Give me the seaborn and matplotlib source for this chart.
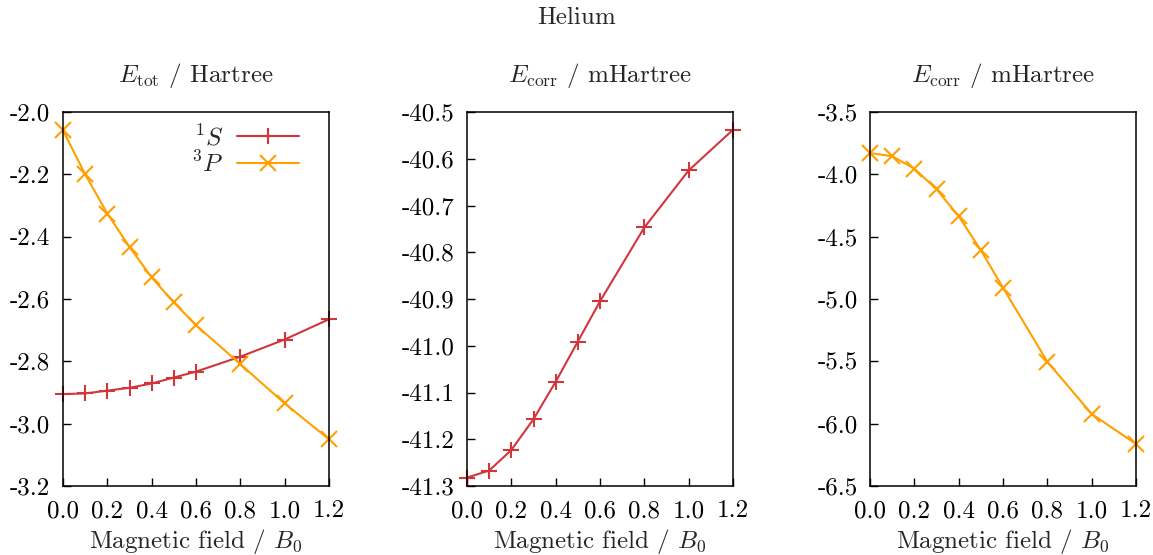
import matplotlib
matplotlib.use("Agg")
import matplotlib.pyplot as plt
import numpy as np
import pandas as pd
import seaborn as sns

# Magnetic field strengths (units of B0)
field = [0.0, 0.1, 0.2, 0.3, 0.4, 0.5, 0.6, 0.8, 1.0, 1.2]

# Total energies in Hartree
etot_1S = [-2.905, -2.903, -2.894, -2.885, -2.871, -2.852, -2.833, -2.785, -2.730, -2.665]
etot_3P = [-2.059, -2.200, -2.326, -2.433, -2.531, -2.611, -2.684, -2.809, -2.935, -3.050]

# Correlation energies in mHartree
ecorr_1S = [-41.282, -41.267, -41.223, -41.157, -41.077, -40.991, -40.905, -40.747, -40.625, -40.538]
ecorr_3P = [-3.829, -3.855, -3.954, -4.120, -4.336, -4.608, -4.910, -5.503, -5.922, -6.163]

x_ticks = [0.0, 0.2, 0.4, 0.6, 0.8, 1.0, 1.2]
y_ticks_tot = [-3.2, -3.0, -2.8, -2.6, -2.4, -2.2, -2.0]
y_ticks_c1 = [-41.3, -41.2, -41.1, -41.0, -40.9, -40.8, -40.7, -40.6, -40.5]
y_ticks_c3 = [-6.5, -6.0, -5.5, -5.0, -4.5, -4.0, -3.5]

label_1S = r"$^1S$"
label_3P = r"$^3P$"
panel_titles = [r"$E_{\rm tot}$ / Hartree",
                r"$E_{\rm corr}$ / mHartree",
                r"$E_{\rm corr}$ / mHartree"]
x_label = r"Magnetic field / $B_0$"
suptitle = "Helium"

RED = "#d0363c"
ORANGE = "#ffa000"
FS = 18

sns.set_theme(style="white")
plt.rcParams.update({
    "font.family": ["cmr10"],
    "mathtext.fontset": "cm",
    "axes.unicode_minus": False,
    "axes.formatter.use_mathtext": True,
    "font.size": FS,
})

W, H = 1153, 555
fig = plt.figure(figsize=(W / 100, H / 100), dpi=100)

ax_lefts = [63, 467, 870]
ax_w = 266
ax_top, ax_bot = 112, 486

axes = []
for L in ax_lefts:
    ax = fig.add_axes([L / W, 1 - ax_bot / H, ax_w / W, (ax_bot - ax_top) / H])
    axes.append(ax)

line_kw = dict(linewidth=1.5, markersize=11, markeredgewidth=1.5, clip_on=False)

df1 = pd.DataFrame({"B": field, "S": etot_1S, "P": etot_3P})
df2 = pd.DataFrame({"B": field, "S": ecorr_1S})
df3 = pd.DataFrame({"B": field, "P": ecorr_3P})

sns.lineplot(data=df1, x="B", y="S", ax=axes[0], color=RED, marker="+",
             markeredgecolor=RED, label=label_1S, **line_kw)
sns.lineplot(data=df1, x="B", y="P", ax=axes[0], color=ORANGE, marker="x",
             markeredgecolor=ORANGE, label=label_3P, **line_kw)
sns.lineplot(data=df2, x="B", y="S", ax=axes[1], color=RED, marker="+",
             markeredgecolor=RED, **line_kw)
sns.lineplot(data=df3, x="B", y="P", ax=axes[2], color=ORANGE, marker="x",
             markeredgecolor=ORANGE, **line_kw)

yticks_all = [y_ticks_tot, y_ticks_c1, y_ticks_c3]
for ax, yt, title, L in zip(axes, yticks_all, panel_titles, ax_lefts):
    ax.set_xlim(x_ticks[0], x_ticks[-1])
    ax.set_ylim(yt[0], yt[-1])
    ax.set_xticks(x_ticks)
    ax.set_xticklabels([f"{v:.1f}" for v in x_ticks])
    ax.set_yticks(yt)
    ax.set_yticklabels([f"{v:.1f}" for v in yt])
    ax.tick_params(axis="both", direction="in", length=6, width=1.0,
                   colors="black", labelsize=FS, top=False, right=False,
                   bottom=True, left=True)
    ax.tick_params(axis="x", pad=10)
    ax.tick_params(axis="y", pad=9)
    ax.set_xlabel("")
    ax.set_ylabel("")
    for sp in ax.spines.values():
        sp.set_color("black")
        sp.set_linewidth(1.1)
    cx = (L + ax_w / 2) / W
    fig.text(cx, 1 - 75 / H, title, ha="center", va="center", fontsize=FS)
    fig.text(cx, 1 - 548 / H, x_label, ha="center", va="baseline", fontsize=FS)

leg = axes[0].legend(loc="upper right", bbox_to_anchor=(0.936, 1.0),
                     frameon=False, markerfirst=False, handlelength=2.5,
                     handletextpad=0.55, labelspacing=0.05, fontsize=FS,
                     borderaxespad=0.1)

fig.suptitle(suptitle, y=1 - 18 / H, va="center", fontsize=FS)

fig.savefig("out.png", dpi=100)
